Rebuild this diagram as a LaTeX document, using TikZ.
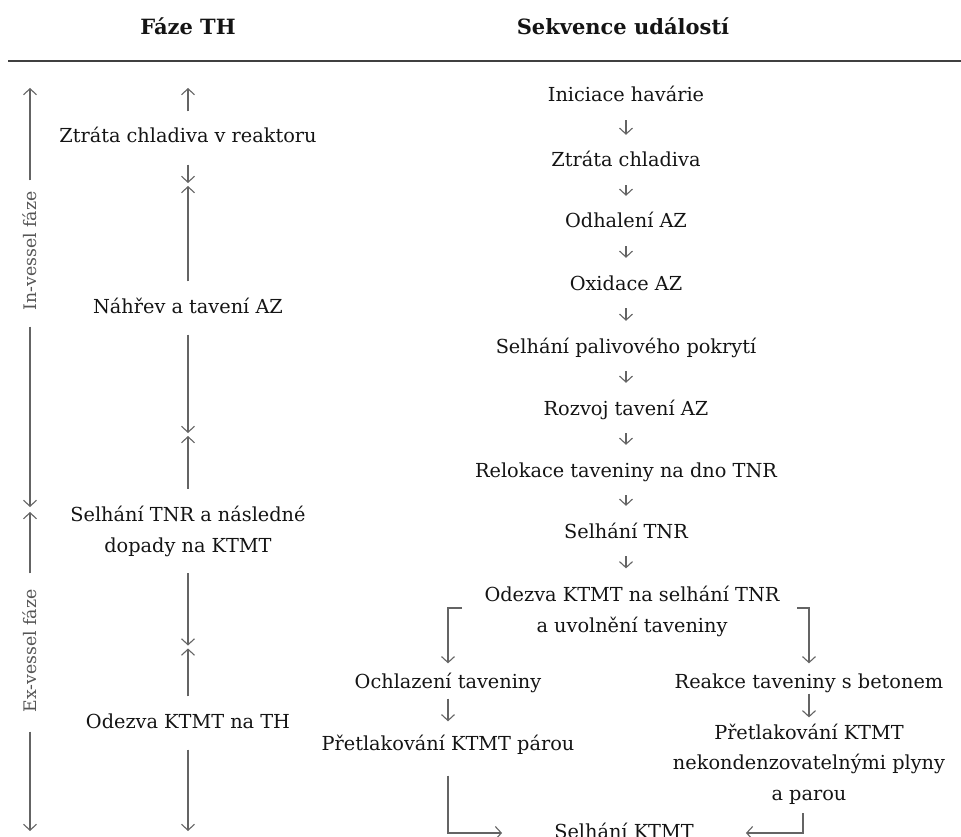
\documentclass[tikz,border=0pt]{standalone}
\usepackage{fontspec}
\setmainfont{DejaVu Serif}
\usetikzlibrary{arrows.meta}
\definecolor{arrgray}{RGB}{100,100,100}
\definecolor{txtblack}{RGB}{20,20,20}
\begin{document}
\begin{tikzpicture}[x=1pt,y=-1pt,
	every node/.style={font=\fontsize{19.3}{30.5}\selectfont,text=txtblack,inner sep=0pt,align=center},
	ev/.style={anchor=base,text height=14.5pt,text depth=4.5pt},
	evm/.style={anchor=base},
	head/.style={anchor=base,font=\fontsize{21}{24}\selectfont\bfseries},
	phase/.style={rotate=90,font=\fontsize{17.3}{20}\selectfont,text=arrgray!85!black},
	line/.style={draw=arrgray,line width=1.1pt},
	tip/.style={line,-{Straight Barb[length=6pt,width=13pt]}},
	seqarr/.style={tip,shorten <=13.5pt,shorten >=17.5pt},
	tharr/.style={tip,shorten <=17pt}]
	
	\useasboundingbox (0,0) rectangle (961,837);
	
	% hlavicka
	\node[head] (hdrPhase) at (188,35) {Fáze TH};
	\node[head] (hdrSeq) at (623,35) {Sekvence událostí};
	\draw[black!75,line width=2.2pt] (8,61)--(961,61);
	
	% faze in-vessel / ex-vessel
	\coordinate (lTop) at (30,88);
	\coordinate (lMid) at (30,509.5);
	\coordinate (lBot) at (30,831);
	\node[phase] (phIn) at (30,251) {In-vessel fáze};
	\node[phase] (phEx) at (30,651) {Ex-vessel fáze};
	\draw[tip,shorten <=11pt] (phIn)--(lTop);
	\draw[tip,shorten <=16pt,shorten >=2.5pt] (phIn)--(lMid);
	\draw[tip,shorten <=16pt,shorten >=2.5pt] (phEx)--(lMid);
	\draw[tip,shorten <=19pt] (phEx)--(lBot);
	
	% faze TH
	\coordinate (mTop) at (188,88);
	\coordinate (mA) at (188,184.5);
	\coordinate (mB) at (188,434.5);
	\coordinate (mC) at (188,647);
	\coordinate (mBot) at (188,831);
	\node[ev] (thLoss) at (188,143) {Ztráta chladiva v reaktoru};
	\node[ev] (thMelt) at (188,313) {Náhřev a tavení AZ};
	\node[evm] (thVessel) at (188,552) {Selhání TNR a následné\\dopady na KTMT};
	\node[ev] (thCont) at (188,728) {Odezva KTMT na TH};
	\draw[tharr] (thLoss)--(mTop);
	\draw[tharr,shorten >=1.5pt] (thLoss)--(mA);
	\draw[tharr,shorten >=1.5pt] (thMelt)--(mA);
	\draw[tharr,shorten >=1.5pt] (thMelt)--(mB);
	\draw[tharr,shorten >=1.5pt] (thVessel)--(mB);
	\draw[tharr,shorten >=1.5pt] (thVessel)--(mC);
	\draw[tharr,shorten >=1.5pt] (thCont)--(mC);
	\draw[tharr] (thCont)--(mBot);
	
	% sekvence udalosti
	\node[ev] (evInit) at (626,102) {Iniciace havárie};
	\node[ev] (evLoss) at (626,167) {Ztráta chladiva};
	\node[ev] (evUncov) at (626,228) {Odhalení AZ};
	\node[ev] (evOxid) at (626,290) {Oxidace AZ};
	\node[ev] (evClad) at (626,353) {Selhání palivového pokrytí};
	\node[ev] (evMelt) at (626,415) {Rozvoj tavení AZ};
	\node[ev] (evReloc) at (626,477) {Relokace taveniny na dno TNR};
	\node[ev] (evVessel) at (626,538) {Selhání TNR};
	\node[evm] (evResp) at (632,632) {Odezva KTMT na selhání TNR\\a uvolnění taveniny};
	\node[ev] (evCool) at (448,688) {Ochlazení taveniny};
	\node[ev] (evSteam) at (448,750) {Přetlakování KTMT párou};
	\node[ev] (evMCCI) at (809,688) {Reakce taveniny s betonem};
	\node[evm] (evGas) at (809,800) {Přetlakování KTMT\\nekondenzovatelnými plyny\\a parou};
	\node[ev] (evFail) at (624,838) {Selhání KTMT};
	\coordinate (brL) at (462,608);
	\coordinate (brR) at (797,608);
	
	\draw[seqarr] (evInit)--(evLoss);
	\draw[seqarr] (evLoss)--(evUncov);
	\draw[seqarr] (evUncov)--(evOxid);
	\draw[seqarr] (evOxid)--(evClad);
	\draw[seqarr] (evClad)--(evMelt);
	\draw[seqarr] (evMelt)--(evReloc);
	\draw[seqarr] (evReloc)--(evVessel);
	\draw[seqarr] (evVessel)--(evVessel|-evResp.north);
	\draw[tip,shorten >=10pt] (brL)-|(evCool);
	\draw[tip,shorten >=10pt] (brR)-|(evMCCI);
	\draw[tip,shorten <=6pt,shorten >=14pt] (evCool)--(evSteam);
	\draw[tip,shorten <=1pt,shorten >=6pt] (evMCCI)--(evGas);
	\draw[tip,shorten <=21pt,shorten >=52pt] (evSteam)|-(evFail);
	\draw[tip,shorten <=9pt,shorten >=52pt] ([xshift=-6pt]evGas.south)|-(evFail);
	
\end{tikzpicture}
\end{document}
